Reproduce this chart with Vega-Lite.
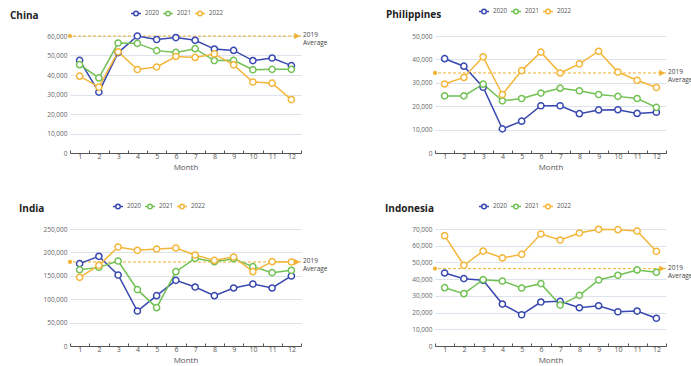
{
"$schema":"https://vega.github.io/schema/vega-lite/v6.json",
"padding":{"left":10,"top":5,"right":0,"bottom":0},
"config":{"font":"Open Sans","view":{"stroke":null},
 "title":{"fontSize":10,"fontWeight":"bold","color":"#222","anchor":"start","frame":"group"},
 "axisX":{"domainColor":"#555","tickColor":"#555","tickSize":-3,"labelFontSize":7,"labelColor":"#555","labelPadding":2,"titleFontSize":8,"titleFontWeight":"normal","titleColor":"#555","titlePadding":4,"labelAngle":0,"grid":false},
 "axisY":{"grid":true,"gridColor":"#dde3ec","gridOpacity":1,"domain":false,"ticks":false,"labelFontSize":6.5,"labelColor":"#666","labelPadding":3,"labelOverlap":false,"labelFlush":false},
 "legend":{"orient":"none","direction":"horizontal","title":null,"symbolType":"M-1,0L-0.45,0M0.45,0L1,0M0.45,0A0.45,0.45,0,1,1,-0.45,0A0.45,0.45,0,1,1,0.45,0","symbolSize":100,"symbolStrokeWidth":1.5,"symbolFillColor":"white","labelFontSize":6.2,"labelColor":"#555","columnPadding":0,"labelOffset":3}
},
"datasets":{
"avg":[
{"country":"China","pos":"start","month":1,"value":60000},{"country":"China","pos":"end","month":12,"value":60000},
{"country":"Philippines","pos":"start","month":1,"value":34200},{"country":"Philippines","pos":"end","month":12,"value":34200},
{"country":"India","pos":"start","month":1,"value":179500},{"country":"India","pos":"end","month":12,"value":179500},
{"country":"Indonesia","pos":"start","month":1,"value":46300},{"country":"Indonesia","pos":"end","month":12,"value":46300}
],
"series":[
{"country":"China","year":"2020","month":1,"value":47500},{"country":"China","year":"2020","month":2,"value":31200},{"country":"China","year":"2020","month":3,"value":51500},{"country":"China","year":"2020","month":4,"value":60000},{"country":"China","year":"2020","month":5,"value":58200},{"country":"China","year":"2020","month":6,"value":59200},{"country":"China","year":"2020","month":7,"value":57800},{"country":"China","year":"2020","month":8,"value":53300},{"country":"China","year":"2020","month":9,"value":52600},{"country":"China","year":"2020","month":10,"value":47400},{"country":"China","year":"2020","month":11,"value":48700},{"country":"China","year":"2020","month":12,"value":44800},
{"country":"China","year":"2021","month":1,"value":45300},{"country":"China","year":"2021","month":2,"value":38500},{"country":"China","year":"2021","month":3,"value":56400},{"country":"China","year":"2021","month":4,"value":56200},{"country":"China","year":"2021","month":5,"value":52500},{"country":"China","year":"2021","month":6,"value":51600},{"country":"China","year":"2021","month":7,"value":53500},{"country":"China","year":"2021","month":8,"value":47400},{"country":"China","year":"2021","month":9,"value":47500},{"country":"China","year":"2021","month":10,"value":42700},{"country":"China","year":"2021","month":11,"value":42900},{"country":"China","year":"2021","month":12,"value":42900},
{"country":"China","year":"2022","month":1,"value":39400},{"country":"China","year":"2022","month":2,"value":33800},{"country":"China","year":"2022","month":3,"value":51900},{"country":"China","year":"2022","month":4,"value":42800},{"country":"China","year":"2022","month":5,"value":44100},{"country":"China","year":"2022","month":6,"value":49500},{"country":"China","year":"2022","month":7,"value":49000},{"country":"China","year":"2022","month":8,"value":50800},{"country":"China","year":"2022","month":9,"value":45200},{"country":"China","year":"2022","month":10,"value":36400},{"country":"China","year":"2022","month":11,"value":35800},{"country":"China","year":"2022","month":12,"value":27400},
{"country":"Philippines","year":"2020","month":1,"value":40300},{"country":"Philippines","year":"2020","month":2,"value":37100},{"country":"Philippines","year":"2020","month":3,"value":28100},{"country":"Philippines","year":"2020","month":4,"value":10300},{"country":"Philippines","year":"2020","month":5,"value":13600},{"country":"Philippines","year":"2020","month":6,"value":20200},{"country":"Philippines","year":"2020","month":7,"value":20200},{"country":"Philippines","year":"2020","month":8,"value":16800},{"country":"Philippines","year":"2020","month":9,"value":18400},{"country":"Philippines","year":"2020","month":10,"value":18500},{"country":"Philippines","year":"2020","month":11,"value":16900},{"country":"Philippines","year":"2020","month":12,"value":17400},
{"country":"Philippines","year":"2021","month":1,"value":24400},{"country":"Philippines","year":"2021","month":2,"value":24400},{"country":"Philippines","year":"2021","month":3,"value":29400},{"country":"Philippines","year":"2021","month":4,"value":22300},{"country":"Philippines","year":"2021","month":5,"value":23300},{"country":"Philippines","year":"2021","month":6,"value":25600},{"country":"Philippines","year":"2021","month":7,"value":27700},{"country":"Philippines","year":"2021","month":8,"value":26600},{"country":"Philippines","year":"2021","month":9,"value":25000},{"country":"Philippines","year":"2021","month":10,"value":24200},{"country":"Philippines","year":"2021","month":11,"value":23300},{"country":"Philippines","year":"2021","month":12,"value":19500},
{"country":"Philippines","year":"2022","month":1,"value":29500},{"country":"Philippines","year":"2022","month":2,"value":32300},{"country":"Philippines","year":"2022","month":3,"value":41100},{"country":"Philippines","year":"2022","month":4,"value":25000},{"country":"Philippines","year":"2022","month":5,"value":35200},{"country":"Philippines","year":"2022","month":6,"value":43100},{"country":"Philippines","year":"2022","month":7,"value":34200},{"country":"Philippines","year":"2022","month":8,"value":38100},{"country":"Philippines","year":"2022","month":9,"value":43500},{"country":"Philippines","year":"2022","month":10,"value":34600},{"country":"Philippines","year":"2022","month":11,"value":31100},{"country":"Philippines","year":"2022","month":12,"value":28000},
{"country":"India","year":"2020","month":1,"value":176000},{"country":"India","year":"2020","month":2,"value":191600},{"country":"India","year":"2020","month":3,"value":151700},{"country":"India","year":"2020","month":4,"value":74800},{"country":"India","year":"2020","month":5,"value":107500},{"country":"India","year":"2020","month":6,"value":140300},{"country":"India","year":"2020","month":7,"value":126000},{"country":"India","year":"2020","month":8,"value":107500},{"country":"India","year":"2020","month":9,"value":124000},{"country":"India","year":"2020","month":10,"value":132500},{"country":"India","year":"2020","month":11,"value":124000},{"country":"India","year":"2020","month":12,"value":149600},
{"country":"India","year":"2021","month":1,"value":163000},{"country":"India","year":"2021","month":2,"value":168000},{"country":"India","year":"2021","month":3,"value":181600},{"country":"India","year":"2021","month":4,"value":120400},{"country":"India","year":"2021","month":5,"value":81900},{"country":"India","year":"2021","month":6,"value":158800},{"country":"India","year":"2021","month":7,"value":187300},{"country":"India","year":"2021","month":8,"value":180200},{"country":"India","year":"2021","month":9,"value":186600},{"country":"India","year":"2021","month":10,"value":169500},{"country":"India","year":"2021","month":11,"value":156700},{"country":"India","year":"2021","month":12,"value":161700},
{"country":"India","year":"2022","month":1,"value":146700},{"country":"India","year":"2022","month":2,"value":172400},{"country":"India","year":"2022","month":3,"value":211500},{"country":"India","year":"2022","month":4,"value":204400},{"country":"India","year":"2022","month":5,"value":207300},{"country":"India","year":"2022","month":6,"value":209400},{"country":"India","year":"2022","month":7,"value":194400},{"country":"India","year":"2022","month":8,"value":183000},{"country":"India","year":"2022","month":9,"value":190200},{"country":"India","year":"2022","month":10,"value":158800},{"country":"India","year":"2022","month":11,"value":180200},{"country":"India","year":"2022","month":12,"value":179500},
{"country":"Indonesia","year":"2020","month":1,"value":43700},{"country":"Indonesia","year":"2020","month":2,"value":40300},{"country":"Indonesia","year":"2020","month":3,"value":39300},{"country":"Indonesia","year":"2020","month":4,"value":25100},{"country":"Indonesia","year":"2020","month":5,"value":18700},{"country":"Indonesia","year":"2020","month":6,"value":26300},{"country":"Indonesia","year":"2020","month":7,"value":26700},{"country":"Indonesia","year":"2020","month":8,"value":22900},{"country":"Indonesia","year":"2020","month":9,"value":24100},{"country":"Indonesia","year":"2020","month":10,"value":20500},{"country":"Indonesia","year":"2020","month":11,"value":20900},{"country":"Indonesia","year":"2020","month":12,"value":16600},
{"country":"Indonesia","year":"2021","month":1,"value":34900},{"country":"Indonesia","year":"2021","month":2,"value":31300},{"country":"Indonesia","year":"2021","month":3,"value":39700},{"country":"Indonesia","year":"2021","month":4,"value":38900},{"country":"Indonesia","year":"2021","month":5,"value":34700},{"country":"Indonesia","year":"2021","month":6,"value":37300},{"country":"Indonesia","year":"2021","month":7,"value":24500},{"country":"Indonesia","year":"2021","month":8,"value":30300},{"country":"Indonesia","year":"2021","month":9,"value":39500},{"country":"Indonesia","year":"2021","month":10,"value":42300},{"country":"Indonesia","year":"2021","month":11,"value":45500},{"country":"Indonesia","year":"2021","month":12,"value":44100},
{"country":"Indonesia","year":"2022","month":1,"value":66000},{"country":"Indonesia","year":"2022","month":2,"value":48300},{"country":"Indonesia","year":"2022","month":3,"value":56800},{"country":"Indonesia","year":"2022","month":4,"value":52700},{"country":"Indonesia","year":"2022","month":5,"value":54800},{"country":"Indonesia","year":"2022","month":6,"value":67000},{"country":"Indonesia","year":"2022","month":7,"value":63400},{"country":"Indonesia","year":"2022","month":8,"value":67600},{"country":"Indonesia","year":"2022","month":9,"value":69800},{"country":"Indonesia","year":"2022","month":10,"value":69600},{"country":"Indonesia","year":"2022","month":11,"value":68800},{"country":"Indonesia","year":"2022","month":12,"value":56600}
]},
"columns":2,
"spacing":{"column":134,"row":76},
"bounds":"flush",
"resolve":{"scale":{"x":"independent","y":"independent","color":"independent"},"legend":{"color":"independent"}},
"concat":[
{"width":231,"height":117,"title":{"text":"China","dx":-60,"dy":18},
 "layer":[
  {"data":{"name":"avg"},"transform":[{"filter":"datum.country==='China' && datum.pos==='start'"}],"mark":{"type":"rule","color":"#f0b030","strokeDash":[3,2],"strokeWidth":1},"encoding":{"y":{"field":"value","type":"quantitative","title":null,"scale":{"domain":[0,60000],"nice":false,"zero":true},"axis":{"values":[0,10000,20000,30000,40000,50000,60000],"tickCount":20,"labelOverlap":false,"labelExpr":"format(datum.value, ',')"}}}},
  {"data":{"name":"series"},"transform":[{"filter":"datum.country==='China'"}],"mark":{"type":"line","strokeWidth":1.5},
   "encoding":{"x":{"field":"month","type":"ordinal","title":"Month","scale":{"type":"band","paddingInner":0,"paddingOuter":0},"axis":{"tickBand":"extent"}},
    "y":{"field":"value","type":"quantitative"},
    "color":{"field":"year","type":"nominal","scale":{"domain":["2020","2021","2022"],"range":["#3848b0","#72c154","#f4b63a"]},"legend":{"legendX":60,"legendY":-29}}}},
  {"data":{"name":"series"},"transform":[{"filter":"datum.country==='China'"}],"mark":{"type":"point","filled":false,"fill":"white","size":38,"strokeWidth":1.5,"opacity":1},
   "encoding":{"x":{"field":"month","type":"ordinal"},"y":{"field":"value","type":"quantitative"},"color":{"field":"year","type":"nominal"}}},
  {"data":{"name":"avg"},"transform":[{"filter":"datum.country==='China' && datum.pos==='start'"}],"mark":{"type":"circle","color":"#f0b030","size":18,"opacity":1},"encoding":{"x":{"field":"month","type":"ordinal","bandPosition":0},"y":{"field":"value","type":"quantitative"}}},
  {"data":{"name":"avg"},"transform":[{"filter":"datum.country==='China' && datum.pos==='end'"}],"mark":{"type":"point","shape":"triangle-right","filled":true,"color":"#f0b030","size":40,"xOffset":-4,"opacity":1},"encoding":{"x":{"field":"month","type":"ordinal","bandPosition":1},"y":{"field":"value","type":"quantitative"}}},
  {"data":{"name":"avg"},"transform":[{"filter":"datum.country==='China' && datum.pos==='end'"}],"mark":{"type":"text","text":"2019\nAverage","lineBreak":"\n","align":"left","baseline":"middle","dx":2,"dy":-1,"fontSize":6.5,"lineHeight":8,"color":"#444"},"encoding":{"x":{"field":"month","type":"ordinal","bandPosition":1},"y":{"field":"value","type":"quantitative"}}}
 ]},
{"width":231,"height":117,"title":{"text":"Philippines","dx":-49,"dy":19},
 "layer":[
  {"data":{"name":"avg"},"transform":[{"filter":"datum.country==='Philippines' && datum.pos==='start'"}],"mark":{"type":"rule","color":"#f0b030","strokeDash":[3,2],"strokeWidth":1},"encoding":{"y":{"field":"value","type":"quantitative","title":null,"scale":{"domain":[0,50000],"nice":false,"zero":true},"axis":{"values":[0,10000,20000,30000,40000,50000],"tickCount":20,"labelOverlap":false,"labelExpr":"format(datum.value, ',')"}}}},
  {"data":{"name":"series"},"transform":[{"filter":"datum.country==='Philippines'"}],"mark":{"type":"line","strokeWidth":1.5},
   "encoding":{"x":{"field":"month","type":"ordinal","title":"Month","scale":{"type":"band","paddingInner":0,"paddingOuter":0},"axis":{"tickBand":"extent"}},
    "y":{"field":"value","type":"quantitative"},
    "color":{"field":"year","type":"nominal","scale":{"domain":["2020","2021","2022"],"range":["#3848b0","#72c154","#f4b63a"]},"legend":{"legendX":43,"legendY":-31}}}},
  {"data":{"name":"series"},"transform":[{"filter":"datum.country==='Philippines'"}],"mark":{"type":"point","filled":false,"fill":"white","size":38,"strokeWidth":1.5,"opacity":1},
   "encoding":{"x":{"field":"month","type":"ordinal"},"y":{"field":"value","type":"quantitative"},"color":{"field":"year","type":"nominal"}}},
  {"data":{"name":"avg"},"transform":[{"filter":"datum.country==='Philippines' && datum.pos==='start'"}],"mark":{"type":"circle","color":"#f0b030","size":18,"opacity":1},"encoding":{"x":{"field":"month","type":"ordinal","bandPosition":0},"y":{"field":"value","type":"quantitative"}}},
  {"data":{"name":"avg"},"transform":[{"filter":"datum.country==='Philippines' && datum.pos==='end'"}],"mark":{"type":"point","shape":"triangle-right","filled":true,"color":"#f0b030","size":40,"xOffset":-4,"opacity":1},"encoding":{"x":{"field":"month","type":"ordinal","bandPosition":1},"y":{"field":"value","type":"quantitative"}}},
  {"data":{"name":"avg"},"transform":[{"filter":"datum.country==='Philippines' && datum.pos==='end'"}],"mark":{"type":"text","text":"2019\nAverage","lineBreak":"\n","align":"left","baseline":"middle","dx":2,"dy":-1,"fontSize":6.5,"lineHeight":8,"color":"#444"},"encoding":{"x":{"field":"month","type":"ordinal","bandPosition":1},"y":{"field":"value","type":"quantitative"}}}
 ]},
{"width":231,"height":117,"title":{"text":"India","dx":-51,"dy":18},
 "layer":[
  {"data":{"name":"avg"},"transform":[{"filter":"datum.country==='India' && datum.pos==='start'"}],"mark":{"type":"rule","color":"#f0b030","strokeDash":[3,2],"strokeWidth":1},"encoding":{"y":{"field":"value","type":"quantitative","title":null,"scale":{"domain":[0,250000],"nice":false,"zero":true},"axis":{"values":[0,50000,100000,150000,200000,250000],"tickCount":20,"labelOverlap":false,"labelExpr":"format(datum.value, ',')"}}}},
  {"data":{"name":"series"},"transform":[{"filter":"datum.country==='India'"}],"mark":{"type":"line","strokeWidth":1.5},
   "encoding":{"x":{"field":"month","type":"ordinal","title":"Month","scale":{"type":"band","paddingInner":0,"paddingOuter":0},"axis":{"tickBand":"extent"}},
    "y":{"field":"value","type":"quantitative"},
    "color":{"field":"year","type":"nominal","scale":{"domain":["2020","2021","2022"],"range":["#3848b0","#72c154","#f4b63a"]},"legend":{"legendX":42,"legendY":-29}}}},
  {"data":{"name":"series"},"transform":[{"filter":"datum.country==='India'"}],"mark":{"type":"point","filled":false,"fill":"white","size":38,"strokeWidth":1.5,"opacity":1},
   "encoding":{"x":{"field":"month","type":"ordinal"},"y":{"field":"value","type":"quantitative"},"color":{"field":"year","type":"nominal"}}},
  {"data":{"name":"avg"},"transform":[{"filter":"datum.country==='India' && datum.pos==='start'"}],"mark":{"type":"circle","color":"#f0b030","size":18,"opacity":1},"encoding":{"x":{"field":"month","type":"ordinal","bandPosition":0},"y":{"field":"value","type":"quantitative"}}},
  {"data":{"name":"avg"},"transform":[{"filter":"datum.country==='India' && datum.pos==='end'"}],"mark":{"type":"point","shape":"triangle-right","filled":true,"color":"#f0b030","size":40,"xOffset":-4,"opacity":1},"encoding":{"x":{"field":"month","type":"ordinal","bandPosition":1},"y":{"field":"value","type":"quantitative"}}},
  {"data":{"name":"avg"},"transform":[{"filter":"datum.country==='India' && datum.pos==='end'"}],"mark":{"type":"text","text":"2019\nAverage","lineBreak":"\n","align":"left","baseline":"middle","dx":2,"dy":-1,"fontSize":6.5,"lineHeight":8,"color":"#444"},"encoding":{"x":{"field":"month","type":"ordinal","bandPosition":1},"y":{"field":"value","type":"quantitative"}}}
 ]},
{"width":231,"height":117,"title":{"text":"Indonesia","dx":-50,"dy":18},
 "layer":[
  {"data":{"name":"avg"},"transform":[{"filter":"datum.country==='Indonesia' && datum.pos==='start'"}],"mark":{"type":"rule","color":"#f0b030","strokeDash":[3,2],"strokeWidth":1},"encoding":{"y":{"field":"value","type":"quantitative","title":null,"scale":{"domain":[0,70000],"nice":false,"zero":true},"axis":{"values":[0,10000,20000,30000,40000,50000,60000,70000],"tickCount":20,"labelOverlap":false,"labelExpr":"format(datum.value, ',')"}}}},
  {"data":{"name":"series"},"transform":[{"filter":"datum.country==='Indonesia'"}],"mark":{"type":"line","strokeWidth":1.5},
   "encoding":{"x":{"field":"month","type":"ordinal","title":"Month","scale":{"type":"band","paddingInner":0,"paddingOuter":0},"axis":{"tickBand":"extent"}},
    "y":{"field":"value","type":"quantitative"},
    "color":{"field":"year","type":"nominal","scale":{"domain":["2020","2021","2022"],"range":["#3848b0","#72c154","#f4b63a"]},"legend":{"legendX":43,"legendY":-29}}}},
  {"data":{"name":"series"},"transform":[{"filter":"datum.country==='Indonesia'"}],"mark":{"type":"point","filled":false,"fill":"white","size":38,"strokeWidth":1.5,"opacity":1},
   "encoding":{"x":{"field":"month","type":"ordinal"},"y":{"field":"value","type":"quantitative"},"color":{"field":"year","type":"nominal"}}},
  {"data":{"name":"avg"},"transform":[{"filter":"datum.country==='Indonesia' && datum.pos==='start'"}],"mark":{"type":"circle","color":"#f0b030","size":18,"opacity":1},"encoding":{"x":{"field":"month","type":"ordinal","bandPosition":0},"y":{"field":"value","type":"quantitative"}}},
  {"data":{"name":"avg"},"transform":[{"filter":"datum.country==='Indonesia' && datum.pos==='end'"}],"mark":{"type":"point","shape":"triangle-right","filled":true,"color":"#f0b030","size":40,"xOffset":-4,"opacity":1},"encoding":{"x":{"field":"month","type":"ordinal","bandPosition":1},"y":{"field":"value","type":"quantitative"}}},
  {"data":{"name":"avg"},"transform":[{"filter":"datum.country==='Indonesia' && datum.pos==='end'"}],"mark":{"type":"text","text":"2019\nAverage","lineBreak":"\n","align":"left","baseline":"middle","dx":2,"dy":-1,"fontSize":6.5,"lineHeight":8,"color":"#444"},"encoding":{"x":{"field":"month","type":"ordinal","bandPosition":1},"y":{"field":"value","type":"quantitative"}}}
 ]}
]
}
